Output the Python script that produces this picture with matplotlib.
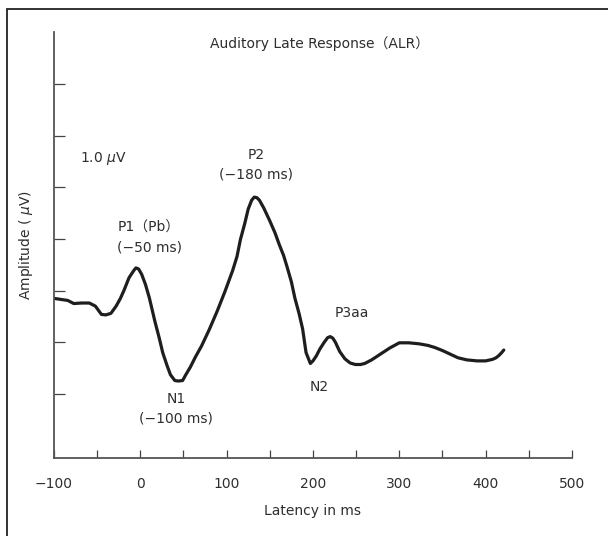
import matplotlib
matplotlib.use('Agg')
import matplotlib.pyplot as plt
import matplotlib.patches as mpatches

plt.rcParams['font.family'] = ['DejaVu Sans', 'Noto Sans CJK KR']

# ALR waveform traced as (latency ms, amplitude uV)
latency = [-100, -84, -77, -68, -59, -52, -45, -40, -34, -28, -23, -19, -13, -7.5, -5, -2, 1.5,
           6, 10.5, 17, 22, 26, 31, 35, 40, 44, 49, 53, 58, 64, 71, 80, 89, 98, 107,
           112, 116, 121, 125, 129, 132, 135, 138, 143, 150, 156, 161, 166, 170, 175,
           179, 184, 188, 192, 197, 200, 204, 208, 213, 217, 220, 223, 226, 231,
           237, 243, 249, 255, 260, 268, 278, 289, 300, 311, 323, 333, 341, 350,
           359, 368, 378, 390, 400, 408, 412, 415, 418, 421]
amplitude = [-0.15, -0.19, -0.25, -0.24, -0.24, -0.30, -0.46, -0.47, -0.44, -0.30, -0.15, 0.0,
             0.25, 0.39, 0.44, 0.42, 0.32,
             0.12, -0.14, -0.60, -0.92, -1.20, -1.45, -1.63, -1.74, -1.75, -1.74, -1.62, -1.48,
             -1.28, -1.07, -0.75, -0.40, -0.02, 0.39,
             0.66, 0.99, 1.30, 1.58, 1.75, 1.81, 1.80, 1.75, 1.60, 1.35, 1.12, 0.89, 0.68, 0.46, 0.17,
             -0.14, -0.45, -0.74, -1.20, -1.41, -1.36, -1.26, -1.13, -1.00, -0.91, -0.89, -0.92,
             -1.00, -1.18,
             -1.32, -1.40, -1.43, -1.43, -1.41, -1.34, -1.23, -1.11, -1.01, -1.01, -1.03, -1.06,
             -1.10, -1.16, -1.23, -1.30, -1.34, -1.36, -1.36, -1.33, -1.30, -1.26, -1.21, -1.15]

x_major = [-100, 0, 100, 200, 300, 400, 500]
x_minor = [-100, -50, 0, 50, 100, 150, 200, 250, 300, 350, 400, 450, 500]
y_ticks = [-2, -1, 0, 1, 2, 3, 4]

# peak labels: text, latency, amplitude
peak_labels = [
    ("P1\uff08Pb\uff09", 10, 1.22),
    ("(\u221250 ms)", 11, 0.83),
    ("N1", 41.5, -2.09),
    ("(\u2212100 ms)", 41.5, -2.48),
    ("P2", 134, 2.63),
    ("(\u2212180 ms)", 134, 2.24),
    ("N2", 207, -1.86),
    ("P3aa", 245, -0.44),
]

txt = '#2e2e2e'
fig = plt.figure(figsize=(6.08, 5.36), dpi=100)
ax = fig.add_axes([0.0887, 0.1455, 0.8521, 0.7942])

ax.plot(latency, amplitude, color='#1e1e1e', linewidth=2.3,
        solid_joinstyle='round', solid_capstyle='round')

ax.set_xlim(-100, 500)
ax.set_ylim(-3.24, 5.0)

ax.set_xticks(x_minor)
ax.set_xticklabels([str(v).replace('-', '\u2212') if v in x_major else '' for v in x_minor],
                   fontsize=10, color=txt)
ax.set_yticks(y_ticks)
ax.set_yticklabels([])
ax.tick_params(axis='x', direction='in', length=6, width=0.9, color='#444444', pad=14)
ax.tick_params(axis='y', direction='in', length=8, width=0.9, color='#444444')

for s in ['top', 'right']:
    ax.spines[s].set_visible(False)
for s in ['left', 'bottom']:
    ax.spines[s].set_color('#555555')
    ax.spines[s].set_linewidth(1.3)

ax.set_xlabel("Latency in ms", fontsize=10, color=txt, labelpad=9)
ax.set_ylabel("Amplitude ( $\\mu$V)", fontsize=10, color=txt, labelpad=10)

ax.text(208, 4.78, "Auditory Late Response\uff08ALR\uff09", ha='center', va='center',
        fontsize=10, color=txt)
ax.text(-70, 2.55, "1.0 $\\mu$V", ha='left', va='center', fontsize=10, color=txt)

for label, lx, ly in peak_labels:
    ax.text(lx, ly, label, ha='center', va='center', fontsize=10, color=txt)

# outer frame
fig.patches.append(mpatches.Rectangle((7 / 608, -0.1), 1.2, 1 - 9 / 536 + 0.1,
                                      transform=fig.transFigure, fill=False,
                                      edgecolor='#222222', linewidth=1.3))

fig.savefig('out.png', dpi=100, facecolor='white')
